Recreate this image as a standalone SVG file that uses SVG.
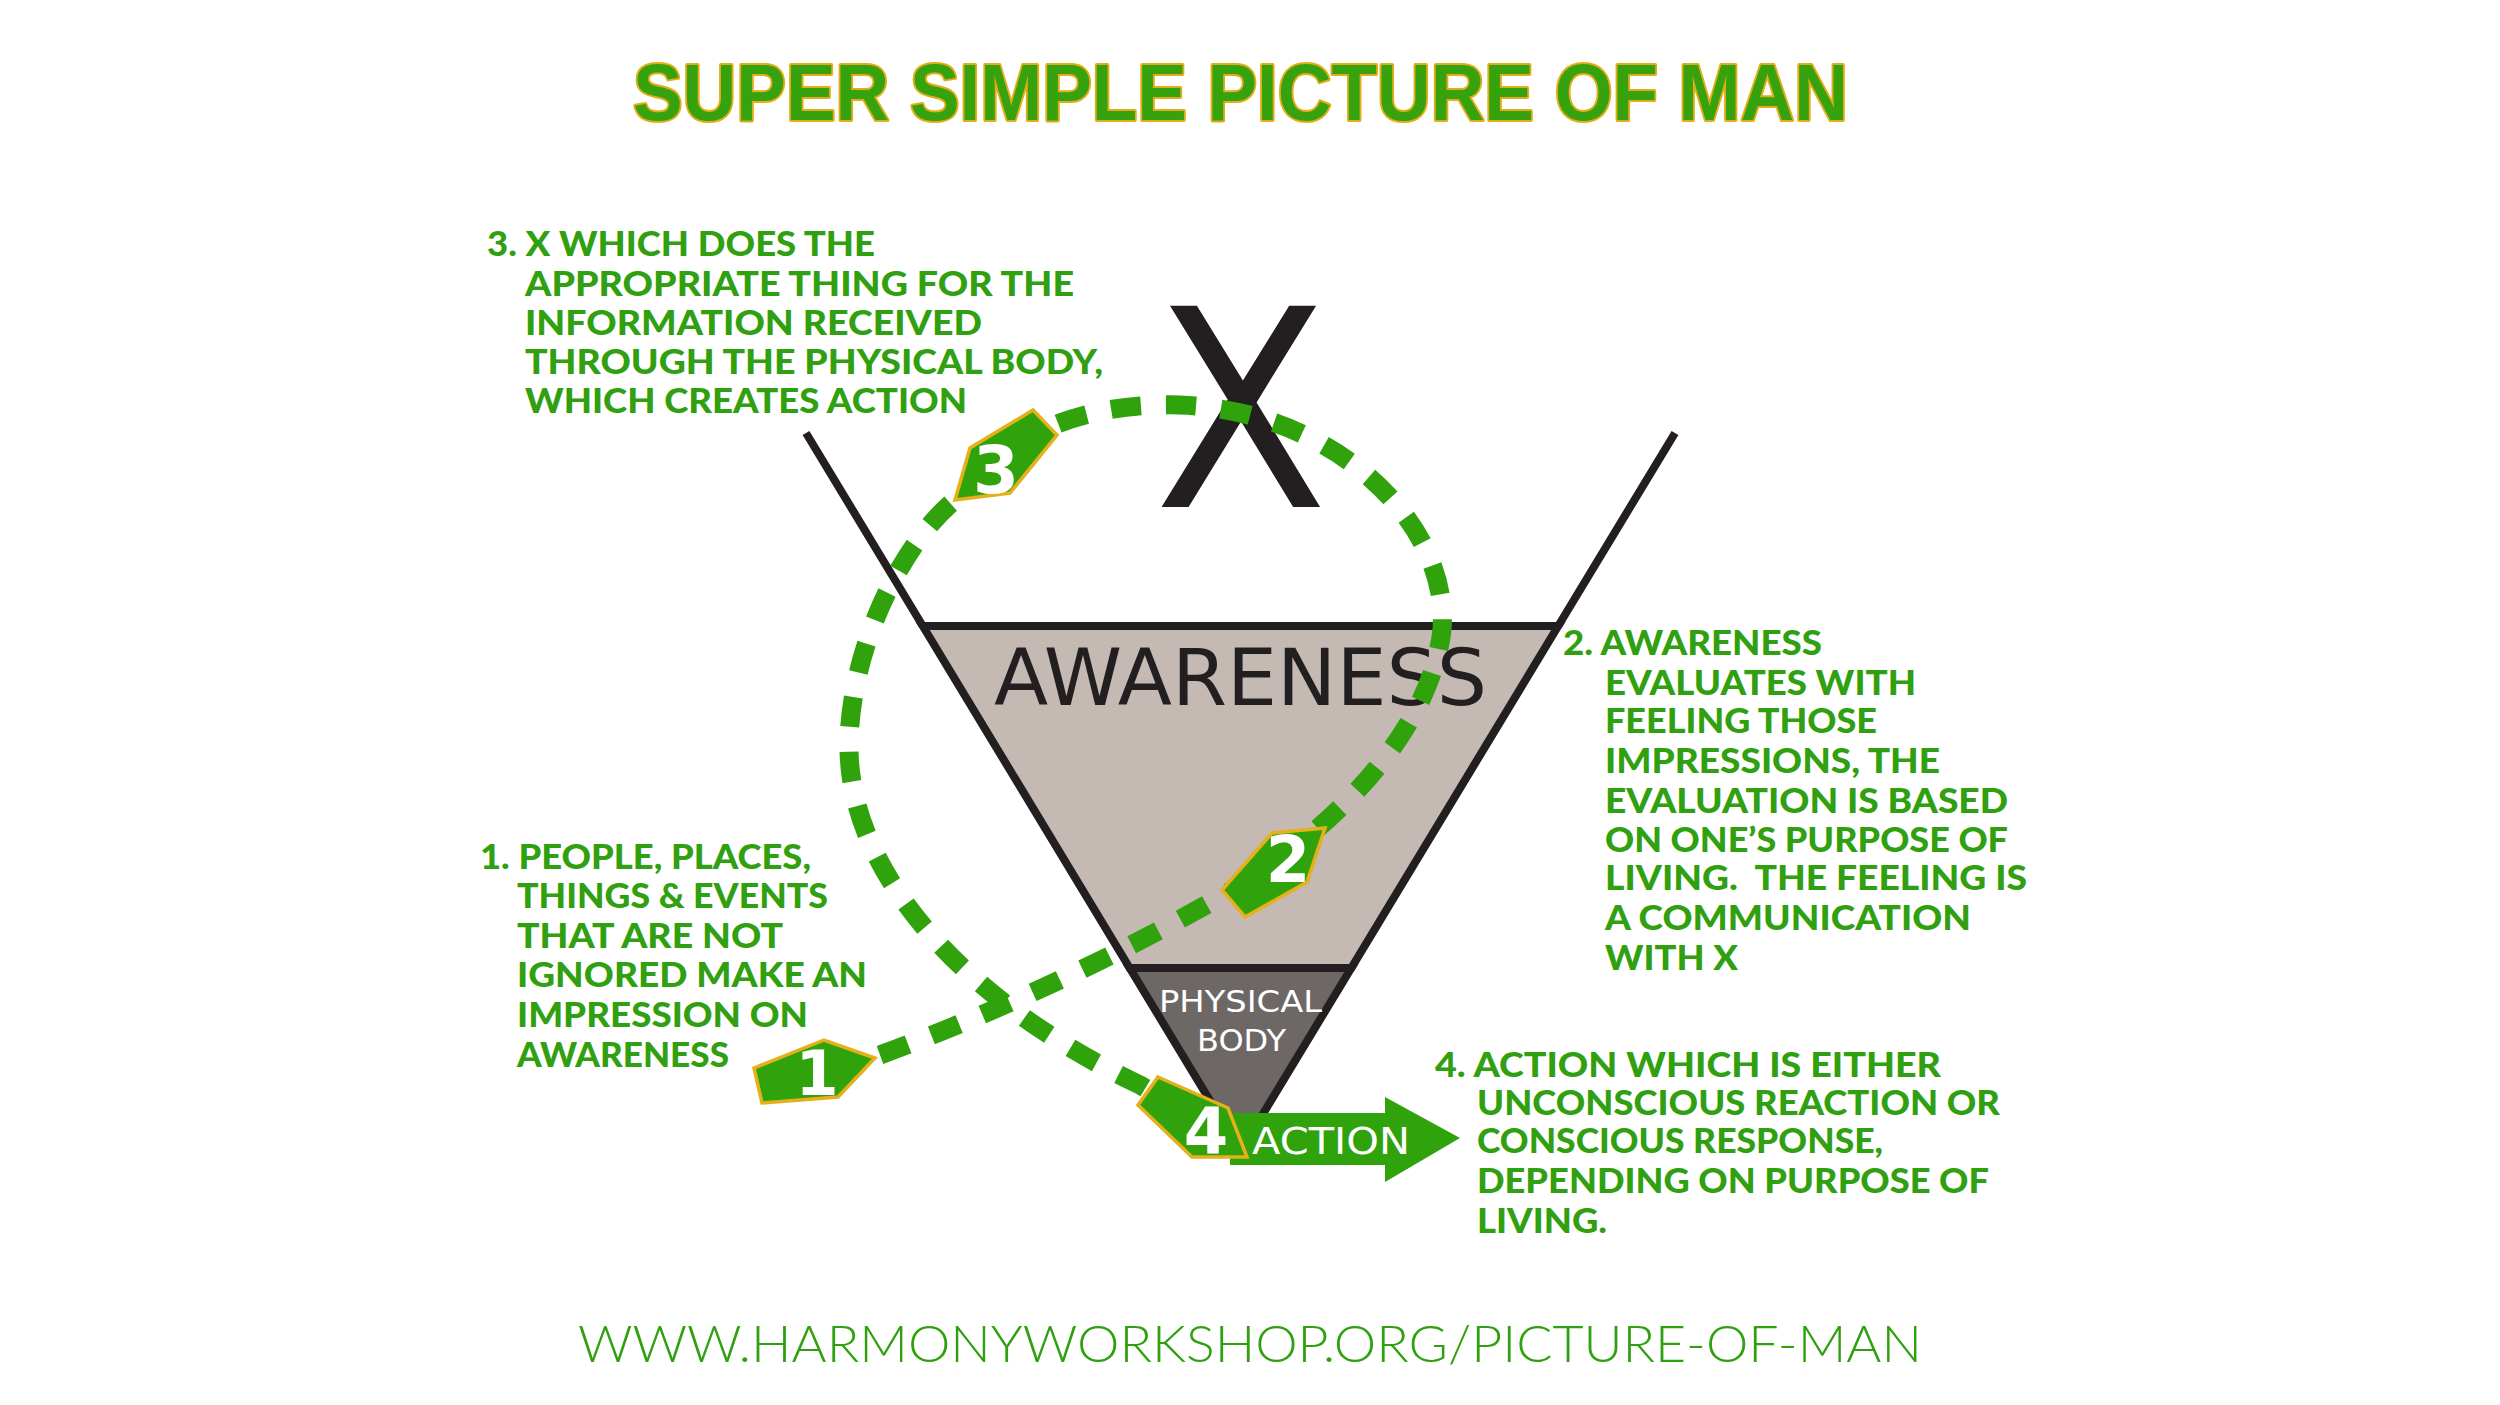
<svg xmlns="http://www.w3.org/2000/svg" width="2500" height="1405" viewBox="0 0 2500 1405">
<defs>
<style>
.title{font-family:"Liberation Sans","DejaVu Sans",sans-serif;font-weight:bold;font-size:80px;fill:#35a20e;stroke:#e4ad17;stroke-width:4px;paint-order:stroke;stroke-linejoin:round}
.lbl{font-family:Lato,"Open Sans","Liberation Sans",sans-serif;font-weight:900;font-size:34px;fill:#30a010}
.url{font-family:Lato,"Open Sans","Liberation Sans",sans-serif;font-weight:300;font-size:52px;fill:#30a010}
.dark{font-family:"DejaVu Sans","Liberation Sans",sans-serif;fill:#231f20}
.white{font-family:"DejaVu Sans","Liberation Sans",sans-serif;fill:#ffffff}
.badge{fill:#2fa20c;stroke:#e6b01a;stroke-width:3.5;stroke-linejoin:miter}
.num{font-family:"DejaVu Sans","Liberation Sans",sans-serif;font-weight:bold;fill:#ffffff;text-anchor:middle}
.dash{fill:none;stroke:#2fa20c;stroke-width:19;stroke-dasharray:30 25}
</style>
</defs>
<rect width="2500" height="1405" fill="#ffffff"/>

<g id="title">
<text class="title" x="633" y="120" textLength="1215" lengthAdjust="spacingAndGlyphs">SUPER SIMPLE PICTURE OF MAN</text>
</g>

<g id="funnel">
<line x1="806" y1="433" x2="922.8" y2="626" stroke="#231f20" stroke-width="8"/>
<line x1="1675" y1="433" x2="1558.2" y2="626" stroke="#231f20" stroke-width="8"/>
</g>

<g id="node-x">
<text class="dark" x="1154" y="507" font-size="276" textLength="174" lengthAdjust="spacingAndGlyphs" font-family="'Open Sans','DejaVu Sans',sans-serif">X</text>
</g>

<g id="node-awareness">
<polygon points="922.8,626 1558.2,626 1351.3,968 1129.7,968" fill="#c5bab3" stroke="#231f20" stroke-width="8"/>
<text class="dark" x="994" y="705" font-size="78" textLength="493" lengthAdjust="spacingAndGlyphs">AWARENESS</text>
</g>

<g id="node-physical-body">
<polygon points="1129.7,968 1351.3,968 1240.5,1151" fill="#6d6866" stroke="#231f20" stroke-width="8"/>
<text class="white" x="1159" y="1012" font-size="31" textLength="163" lengthAdjust="spacingAndGlyphs">PHYSICAL</text>
<text class="white" x="1197" y="1051" font-size="31" textLength="89" lengthAdjust="spacingAndGlyphs">BODY</text>
</g>

<g id="node-action">
<polygon points="1230,1113 1385,1113 1385,1097 1460,1138 1385,1182 1385,1165 1230,1165" fill="#2fa20c"/>
<text class="white" x="1252" y="1154" font-size="37" textLength="158" lengthAdjust="spacingAndGlyphs">ACTION</text>
</g>

<g id="connectors">
<path class="dash" d="M 880 1055 Q 1070 985 1250 880 C 1340 820 1430 730 1442 630 C 1450 520 1330 410 1180 405 C 1110 403 1040 420 1000 460 L 955 500 C 900 545 850 650 849 745 C 848 870 960 1000 1140 1085 L 1190 1115"/>
</g>

<g id="badge-1">
<polygon class="badge" points="754,1068 824,1040 875,1058 838,1097 762,1103"/>
<text class="num" x="817" y="1095" font-size="62">1</text>
</g>
<g id="badge-2">
<polygon class="badge" points="1222,890 1272,833 1325,828 1307,882 1245,917"/>
<text class="num" x="1288" y="882" font-size="64">2</text>
</g>
<g id="badge-3">
<polygon class="badge" points="955,500 970,448 1033,410 1057,435 1010,493"/>
<text class="num" x="996" y="493" font-size="66">3</text>
</g>
<g id="badge-4">
<polygon class="badge" points="1158,1077 1228,1108 1247,1157 1192,1157 1138,1105"/>
<text class="num" x="1206" y="1154" font-size="64">4</text>
</g>

<g id="label-3">
<text class="lbl" x="487" y="256" textLength="388" lengthAdjust="spacingAndGlyphs">3. X WHICH DOES THE</text>
<text class="lbl" x="525" y="296" textLength="549" lengthAdjust="spacingAndGlyphs">APPROPRIATE THING FOR THE</text>
<text class="lbl" x="525" y="335" textLength="457" lengthAdjust="spacingAndGlyphs">INFORMATION RECEIVED</text>
<text class="lbl" x="525" y="374" textLength="578" lengthAdjust="spacingAndGlyphs">THROUGH THE PHYSICAL BODY,</text>
<text class="lbl" x="525" y="413" textLength="442" lengthAdjust="spacingAndGlyphs">WHICH CREATES ACTION</text>
</g>

<g id="label-2">
<text class="lbl" x="1563" y="655" textLength="259" lengthAdjust="spacingAndGlyphs">2. AWARENESS</text>
<text class="lbl" x="1605" y="695" textLength="311" lengthAdjust="spacingAndGlyphs">EVALUATES WITH</text>
<text class="lbl" x="1605" y="733" textLength="272" lengthAdjust="spacingAndGlyphs">FEELING THOSE</text>
<text class="lbl" x="1605" y="773" textLength="335" lengthAdjust="spacingAndGlyphs">IMPRESSIONS, THE</text>
<text class="lbl" x="1605" y="813" textLength="403" lengthAdjust="spacingAndGlyphs">EVALUATION IS BASED</text>
<text class="lbl" x="1605" y="852" textLength="403" lengthAdjust="spacingAndGlyphs">ON ONE’S PURPOSE OF</text>
<text class="lbl" x="1605" y="890" textLength="422" lengthAdjust="spacingAndGlyphs" xml:space="preserve">LIVING.  THE FEELING IS</text>
<text class="lbl" x="1605" y="930" textLength="366" lengthAdjust="spacingAndGlyphs">A COMMUNICATION</text>
<text class="lbl" x="1605" y="970" textLength="133" lengthAdjust="spacingAndGlyphs">WITH X</text>
</g>

<g id="label-1">
<text class="lbl" x="480" y="869" textLength="331" lengthAdjust="spacingAndGlyphs">1. PEOPLE, PLACES,</text>
<text class="lbl" x="517" y="908" textLength="311" lengthAdjust="spacingAndGlyphs">THINGS &amp; EVENTS</text>
<text class="lbl" x="517" y="948" textLength="266" lengthAdjust="spacingAndGlyphs">THAT ARE NOT</text>
<text class="lbl" x="517" y="987" textLength="350" lengthAdjust="spacingAndGlyphs">IGNORED MAKE AN</text>
<text class="lbl" x="517" y="1027" textLength="291" lengthAdjust="spacingAndGlyphs">IMPRESSION ON</text>
<text class="lbl" x="517" y="1067" textLength="212" lengthAdjust="spacingAndGlyphs">AWARENESS</text>
</g>

<g id="label-4">
<text class="lbl" x="1435" y="1077" textLength="506" lengthAdjust="spacingAndGlyphs">4. ACTION WHICH IS EITHER</text>
<text class="lbl" x="1477" y="1115" textLength="523" lengthAdjust="spacingAndGlyphs">UNCONSCIOUS REACTION OR</text>
<text class="lbl" x="1477" y="1153" textLength="406" lengthAdjust="spacingAndGlyphs">CONSCIOUS RESPONSE,</text>
<text class="lbl" x="1477" y="1193" textLength="512" lengthAdjust="spacingAndGlyphs">DEPENDING ON PURPOSE OF</text>
<text class="lbl" x="1477" y="1233" textLength="130" lengthAdjust="spacingAndGlyphs">LIVING.</text>
</g>

<g id="url">
<text class="url" x="578" y="1362" textLength="1344" lengthAdjust="spacingAndGlyphs">WWW.HARMONYWORKSHOP.ORG/PICTURE-OF-MAN</text>
</g>
</svg>
